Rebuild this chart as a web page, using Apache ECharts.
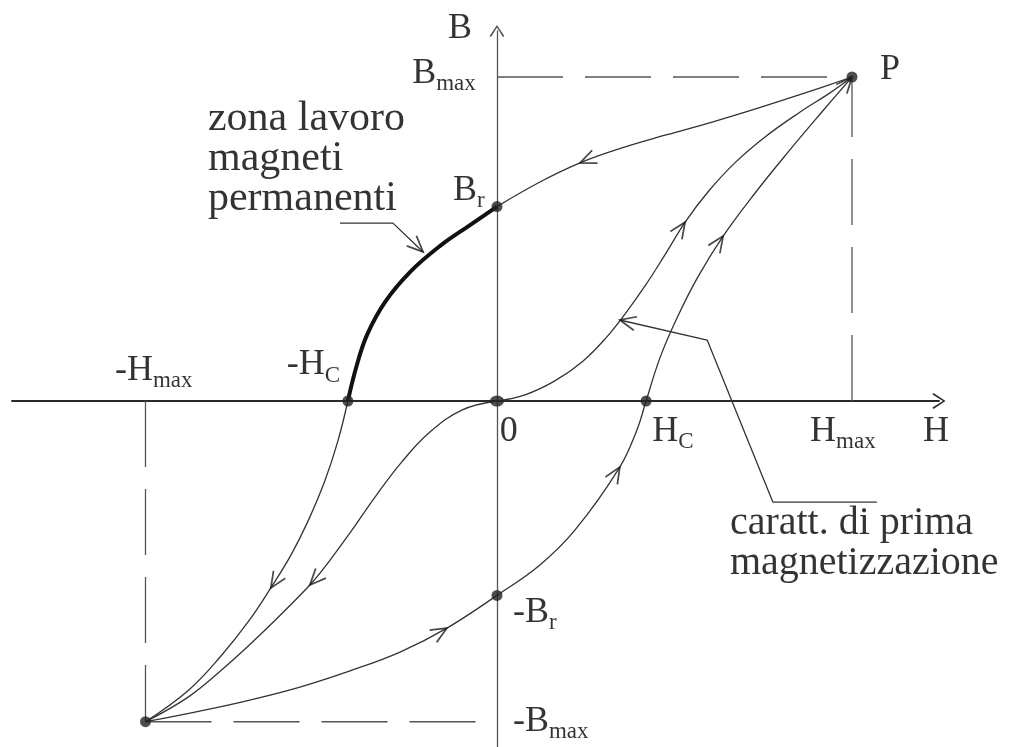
<!DOCTYPE html>
<html>
<head>
<meta charset="utf-8">
<script src="https://cdn.jsdelivr.net/npm/echarts@6/dist/echarts.min.js"></script>
<style>
  html, body { margin: 0; padding: 0; background: #fff; }
  #chart { width: 1027px; height: 747px; }
</style>
</head>
<body>
<div id="chart"></div>
<script>
// Hysteresis loop of a ferromagnetic material (B versus H), normalised units.
const Hmax = 10, Bmax = 10;
const negHmax = -9.9, negBmax = -9.9;
const Br = 6, Hc = 4.2;

// Characteristic points drawn as dots: P, Br, -Hc, origin, Hc, -Br, -Bmax
const keyPoints = [[Hmax, Bmax], [0, Br], [-Hc, 0], [0, 0], [Hc, 0], [0, -Br], [negHmax, negBmax]];

// Descending branch, P -> Br
const descUpper = [[10, 10], [8.68, 9.51], [7.35, 9.04], [6.06, 8.61], [4.76, 8.21], [3.52, 7.81],
  [2.34, 7.35], [1.21, 6.76], [0, 6]];
// Working zone of permanent magnets, Br -> -Hc (second quadrant)
const workZone = [[0, 6], [-0.76, 5.43], [-1.61, 4.78], [-2.45, 3.98], [-3.15, 3.06], [-3.66, 2.04],
  [-3.97, 1.02], [-4.2, 0]];
// Descending branch continued, -Hc -> -Bmax
const descLower = [[-4.2, 0], [-4.48, -1.23], [-4.85, -2.47], [-5.32, -3.7], [-5.8, -4.75], [-6.37, -5.77],
  [-6.99, -6.79], [-7.75, -7.84], [-8.68, -8.92], [-9.9, -9.9]];
// Reversed first-magnetisation curve, origin -> -Bmax
const firstNeg = [[0, 0], [-0.99, -0.28], [-1.89, -0.96], [-2.68, -1.88], [-3.41, -2.93], [-4.14, -4.07],
  [-4.7, -4.91], [-5.27, -5.68], [-6.62, -7.16], [-7.66, -8.21], [-8.7, -9.14], [-9.9, -9.9]];
// Ascending branch, -Bmax -> -Br -> Hc -> P
const ascBranch = [[-9.9, -9.9], [-8.37, -9.57], [-6.96, -9.23], [-5.55, -8.83], [-4.14, -8.33], [-2.73, -7.75],
  [-1.41, -7.01], [0, -6], [1.21, -5.06], [2.2, -3.98], [3.46, -2.04], [3.94, -0.9], [4.2, 0], [4.59, 1.33],
  [5.07, 2.56], [5.66, 3.83], [6.37, 5.09], [7.27, 6.42], [8.25, 7.75], [9.15, 8.92], [10, 10]];
// First-magnetisation curve, origin -> P
const firstPos = [[0, 0], [0.79, 0.19], [1.63, 0.62], [2.42, 1.23], [3.04, 1.91], [3.61, 2.69], [4.17, 3.55],
  [4.73, 4.51], [5.3, 5.52], [5.94, 6.45], [6.7, 7.35], [7.55, 8.15], [8.54, 8.92], [9.38, 9.51], [10, 10]];

// Leader lines for the two notes
const zonaLeader = [[-4.42, 5.49], [-2.93, 5.49], [-2.08, 4.6]];
const carattLeader = [[10.7, -3.12], [7.77, -3.12], [5.92, 1.88], [3.46, 2.5]];

// Dashed guides to the saturation point and its opposite
const guideBmax = [[0, Bmax], [Hmax, Bmax]];
const guideHmax = [[Hmax, 0], [Hmax, Bmax]];
const guideNegHmax = [[negHmax, 0], [negHmax, negBmax]];
const guideNegBmax = [[negHmax, negBmax], [0, negBmax]];

// Label texts
const labelTexts = {
  B: '{m|B}',
  Bmax: '{m|B}{s|max}',
  P: '{m|P}',
  Br: '{m|B}{s|r}',
  negHc: '{m|-H}{s|C}',
  negHmax: '{m|-H}{s|max}',
  zero: '{m|0}',
  Hc: '{m|H}{s|C}',
  Hmax: '{m|H}{s|max}',
  H: '{m|H}',
  negBr: '{m|-B}{s|r}',
  negBmax: '{m|-B}{s|max}',
  zona: 'zona lavoro\nmagneti\npermanenti',
  caratt: 'caratt. di prima\nmagnetizzazione'
};

// Where each label sits (left edge, vertical middle), in axis units
const labelAnchors = {
  B: [-1.38, 11.51], Bmax: [-2.39, 10.12], P: [10.79, 10.22], Br: [-1.24, 6.51],
  negHc: [-5.92, 1.11], negHmax: [-10.76, 0.93], zero: [0.08, -0.93], Hc: [4.37, -0.93],
  Hmax: [8.82, -0.93], H: [12.0, -0.93], negBr: [0.45, -6.54], negBmax: [0.45, -9.88],
  zona: [-8.14, 7.48], caratt: [6.56, -4.4]
};

// Direction arrows along the branches: [curve, point index where the tip sits]
const arrowSpecs = [
  [descUpper, 6], [descLower, 5], [firstNeg, 7], [ascBranch, 6], [ascBranch, 10],
  [ascBranch, 16], [firstPos, 8], [ascBranch, 20], [zonaLeader, 2], [carattLeader, 3]
];

const SERIF = 'Liberation Serif, Times New Roman, serif';
const INK = '#000000';
const CURVE = '#333333';
const AXIS_HEAD = 'path://M0,12 L8,0 L16,12 L14.4,13 L8,2.6 L1.6,13 Z';
const ARROW_HEAD = 'path://M0,16 L7,0 L14,16';
const ARROW_W = 14, ARROW_H = 16;

const chart = echarts.init(document.getElementById('chart'), null, { renderer: 'canvas' });

function curveSeries(data, width, color, smooth) {
  return {
    type: 'line', data: data, symbol: 'none', smooth: smooth, silent: true,
    lineStyle: { color: color, width: width }, z: 3
  };
}
function guideSeries(data) {
  return {
    type: 'line', data: data, symbol: 'none', silent: true,
    lineStyle: { color: '#555', width: 1.3, type: [66, 22] }, z: 2
  };
}

const richStyles = {
  m: { fontFamily: SERIF, fontSize: 36, lineHeight: 44, color: INK },
  s: { fontFamily: SERIF, fontSize: 23, lineHeight: 22, verticalAlign: 'bottom', color: INK }
};

const labelData = Object.keys(labelTexts).map(function (k) {
  const isNote = (k === 'zona' || k === 'caratt');
  return {
    value: labelAnchors[k],
    label: isNote ? {
      formatter: labelTexts[k], fontFamily: SERIF, fontSize: k === 'zona' ? 42 : 40,
      lineHeight: 40, color: INK
    } : { formatter: labelTexts[k], rich: richStyles }
  };
});

const option = {
  animation: false,
  backgroundColor: '#ffffff',
  grid: { left: 12, right: 88, top: 31, bottom: 0 },
  xAxis: {
    type: 'value', min: -13.66, max: 12.45,
    axisLine: { onZero: true, symbol: ['none', AXIS_HEAD], symbolSize: [16, 13],
      lineStyle: { color: '#2a2a2a', width: 2 } },
    axisTick: { show: false }, axisLabel: { show: false }, splitLine: { show: false }
  },
  yAxis: {
    type: 'value', min: -10.68, max: 11.42,
    axisLine: { onZero: true, symbol: ['none', AXIS_HEAD], symbolSize: [15, 12],
      lineStyle: { color: '#555', width: 1.3 } },
    axisTick: { show: false }, axisLabel: { show: false }, splitLine: { show: false }
  },
  series: [
    guideSeries(guideBmax), guideSeries(guideHmax), guideSeries(guideNegHmax), guideSeries(guideNegBmax),
    curveSeries(descUpper, 1.3, CURVE, 0.4),
    curveSeries(workZone, 4, '#111', 0.4),
    curveSeries(descLower, 1.3, CURVE, 0.4),
    curveSeries(firstNeg, 1.3, CURVE, 0.4),
    curveSeries(ascBranch, 1.3, CURVE, 0.4),
    curveSeries(firstPos, 1.3, CURVE, 0.4),
    curveSeries(zonaLeader, 1.3, CURVE, false),
    curveSeries(carattLeader, 1.3, CURVE, false),
    {
      id: 'arrows', type: 'scatter', clip: false, silent: true, z: 4,
      symbol: ARROW_HEAD, symbolSize: [ARROW_W, ARROW_H],
      itemStyle: { color: 'none', borderColor: '#1a1a1a', borderWidth: 1.8 },
      data: []
    },
    {
      type: 'scatter', silent: true, clip: false, z: 5, symbol: 'circle',
      data: keyPoints.map(function (p, i) {
        return { value: p, symbolSize: i === 3 ? [14, 11] : 11 };
      }),
      itemStyle: { color: '#222' }
    },
    {
      type: 'scatter', silent: true, clip: false, z: 6, symbolSize: 1,
      itemStyle: { color: 'transparent' },
      label: { show: true, position: 'inside', align: 'left', verticalAlign: 'middle' },
      data: labelData
    }
  ]
};

chart.setOption(option);

// Orient every arrow head along its curve and shift it so that its tip lands on the point
function toPx(p) { return chart.convertToPixel({ gridIndex: 0 }, p); }
const arrowData = arrowSpecs.map(function (spec) {
  const curve = spec[0], i = spec[1];
  const a = toPx(curve[Math.max(i - 1, 0)]);
  const b = toPx(curve[Math.min(i + 1, curve.length - 1)]);
  const dx = b[0] - a[0], dy = b[1] - a[1];
  const len = Math.sqrt(dx * dx + dy * dy) || 1;
  const ang = Math.atan2(-dy, dx) * 180 / Math.PI;
  return {
    value: curve[i],
    symbolRotate: ang - 90,
    symbolOffset: [-dx / len * ARROW_H / 2, -dy / len * ARROW_H / 2]
  };
});
chart.setOption({ series: [{ id: 'arrows', data: arrowData }] });
</script>
</body>
</html>
